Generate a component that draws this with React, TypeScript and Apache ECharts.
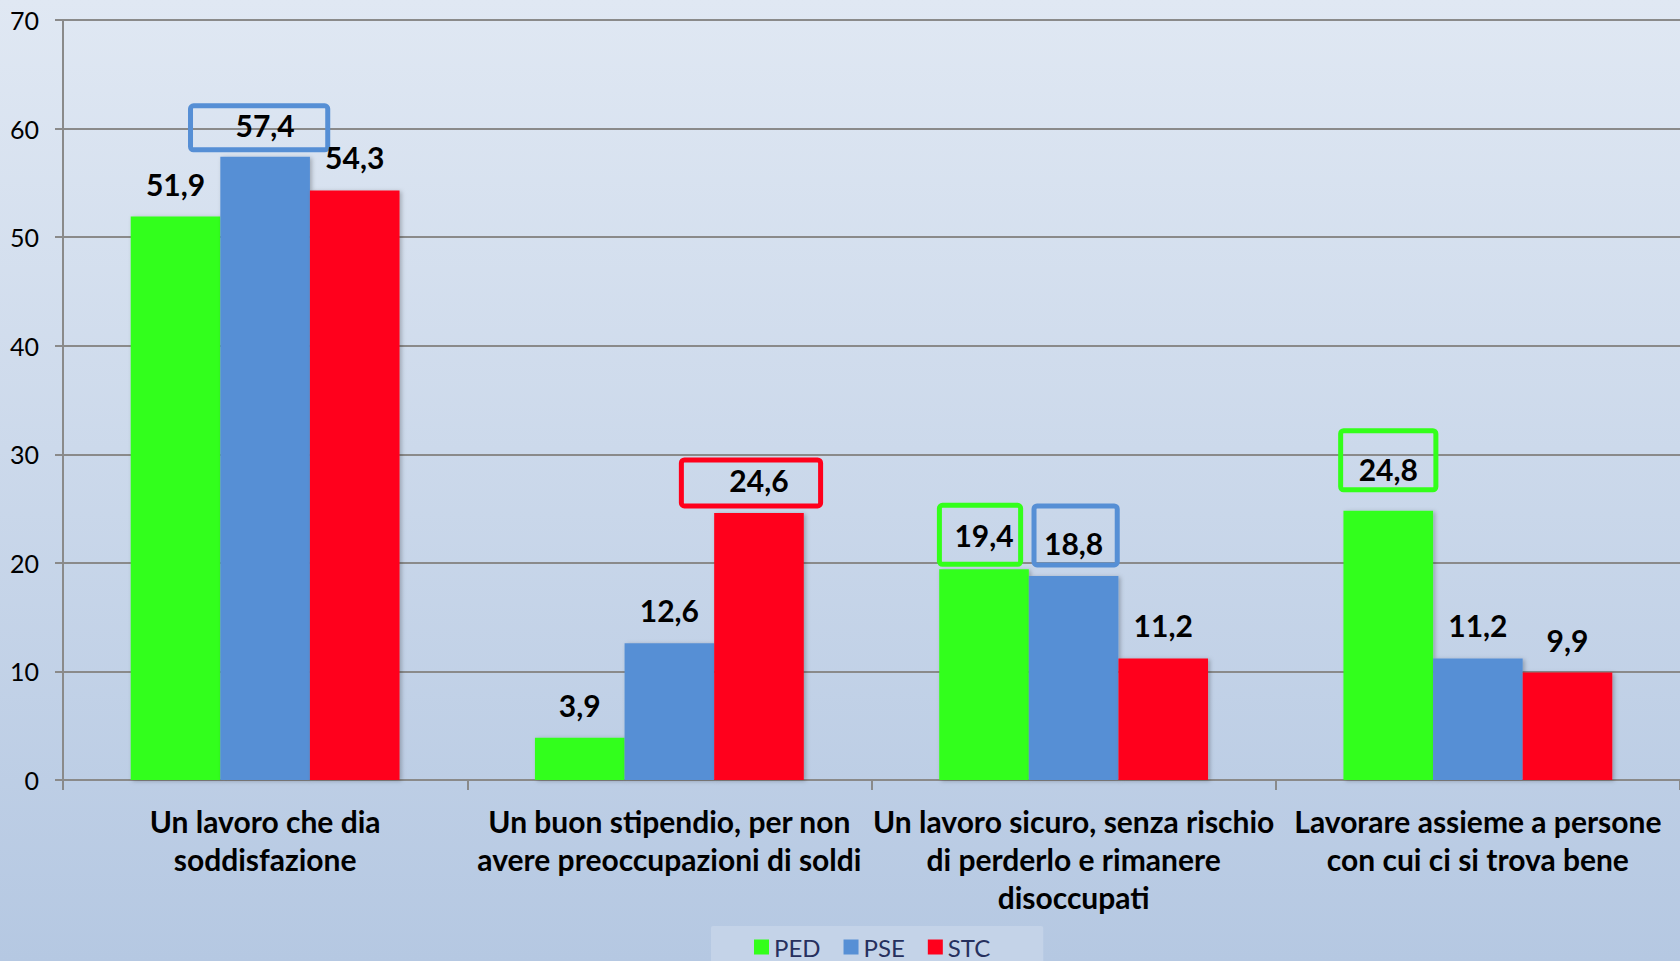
import React, { useEffect, useRef } from "react";
import * as echarts from "echarts";

const categories = [
  "Un lavoro che dia\nsoddisfazione",
  "Un buon stipendio, per non\navere preoccupazioni di soldi",
  "Un lavoro sicuro, senza rischio\ndi perderlo e rimanere\ndisoccupati",
  "Lavorare assieme a persone\ncon cui ci si trova bene",
];
const seriesNames = ["PED", "PSE", "STC"];
const pedValues = [51.9, 3.9, 19.4, 24.8];
const pseValues = [57.4, 12.6, 18.8, 11.2];
const stcValues = [54.3, 24.6, 11.2, 9.9];
const yTicks = [0, 10, 20, 30, 40, 50, 60, 70];

const COLORS = ["#33ff1a", "#568fd5", "#ff001c"];
const FONT = "Lato, 'Open Sans', sans-serif";

// boxed (highlighted) labels: series index - data index -> box style
const boxedLabels: Record<string, { padding: number[]; distance: number; offset: number[] }> = {
  "1-0": { padding: [4, 33, 10, 45], distance: 7, offset: [-6, 0] },
  "2-1": { padding: [5, 32, 11, 48], distance: 7, offset: [-8, 0] },
  "0-2": { padding: [15, 7, 14, 15], distance: 5, offset: [-4, 0] },
  "1-2": { padding: [22, 14, 7, 10], distance: 11, offset: [2, 0] },
  "0-3": { padding: [23, 18, 6, 18], distance: 21, offset: [0, 0] },
};

const fmt = (v: number) => String(v).replace(".", ",");

function buildSeries() {
  const all = [pedValues, pseValues, stcValues];
  return all.map((vals, si) => ({
    name: seriesNames[si],
    type: "bar",
    barGap: "0%",
    barCategoryGap: "33.5%",
    itemStyle: {
      color: COLORS[si],
      shadowColor: "rgba(0,0,0,0.25)",
      shadowBlur: 4,
      shadowOffsetX: 2,
      shadowOffsetY: 1,
    },
    label: {
      show: true,
      position: "top",
      distance: 18,
      fontFamily: FONT,
      fontWeight: "bold",
      fontSize: 30,
      lineHeight: 30,
      color: "#000",
      formatter: (p: any) => fmt(p.value),
    },
    data: vals.map((v, di) => {
      const box = boxedLabels[`${si}-${di}`];
      if (!box) return v;
      return {
        value: v,
        label: {
          padding: box.padding,
          distance: box.distance,
          offset: box.offset,
          borderColor: COLORS[si],
          borderWidth: 5,
          borderRadius: 3,
        },
      };
    }),
  }));
}

export default function App() {
  const ref = useRef<HTMLDivElement>(null);
  useEffect(() => {
    document.body.style.margin = "0";
    const chart = echarts.init(ref.current!, undefined, { renderer: "svg" });
    chart.setOption({
      animation: false,
      backgroundColor: new echarts.graphic.LinearGradient(0, 0, 0, 1, [
        { offset: 0, color: "#e0e8f3" },
        { offset: 1, color: "#b5c8e2" },
      ]),
      grid: { left: 63, right: -6, top: 20, bottom: 181, containLabel: false },
      legend: {
        data: seriesNames,
        left: 711,
        top: 926,
        padding: [9, 53, 4, 43],
        backgroundColor: "#c4d3e8",
        borderRadius: 2,
        icon: "rect",
        itemWidth: 15,
        itemHeight: 15,
        itemGap: 23,
        textStyle: { fontFamily: FONT, fontSize: 24, lineHeight: 22, color: "#26305e" },
      },
      xAxis: {
        type: "category",
        data: categories,
        axisLine: { show: true, lineStyle: { color: "#8a8a8a", width: 2 } },
        axisTick: { show: true, length: 10, lineStyle: { color: "#8a8a8a", width: 2 } },
        axisLabel: {
          interval: 0,
          margin: 22,
          fontFamily: FONT,
          fontWeight: "bold",
          fontSize: 30,
          lineHeight: 38,
          color: "#000",
        },
      },
      yAxis: {
        type: "value",
        min: yTicks[0],
        max: yTicks[yTicks.length - 1],
        interval: 10,
        axisLine: { show: true, lineStyle: { color: "#8a8a8a", width: 2 } },
        axisTick: { show: true, length: 8, lineStyle: { color: "#8a8a8a", width: 2 } },
        splitLine: { show: true, lineStyle: { color: "#8a8a8a", width: 2 } },
        axisLabel: {
          margin: 24,
          fontFamily: FONT,
          fontSize: 25,
          color: "#000",
        },
      },
      series: buildSeries(),
    });
    return () => chart.dispose();
  }, []);
  return (
    <div
      ref={ref}
      style={{ position: "fixed", left: 0, top: 0, width: 1680, height: 961 }}
    />
  );
}
